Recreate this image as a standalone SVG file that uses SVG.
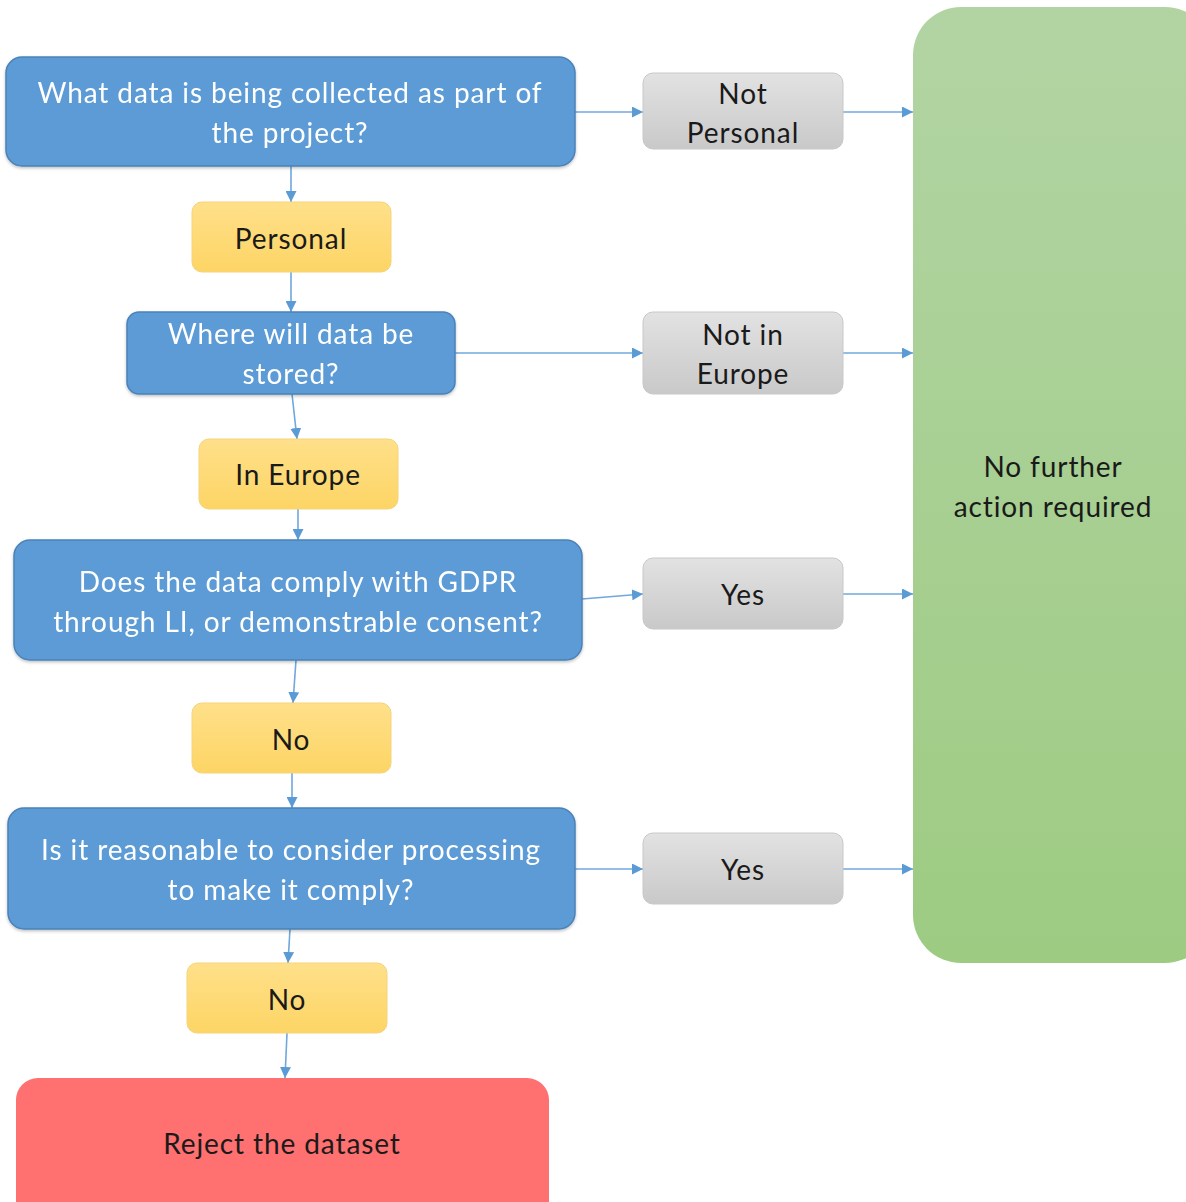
<svg xmlns="http://www.w3.org/2000/svg" width="1186" height="1202" viewBox="0 0 1186 1202">
<defs>
<linearGradient id="gy" x1="0" y1="0" x2="0" y2="1"><stop offset="0" stop-color="#ffe08a"/><stop offset="1" stop-color="#fdd565"/></linearGradient>
<linearGradient id="gg" x1="0" y1="0" x2="0" y2="1"><stop offset="0" stop-color="#e2e2e2"/><stop offset="1" stop-color="#c9c9c9"/></linearGradient>
<linearGradient id="gn" x1="0" y1="0" x2="0" y2="1"><stop offset="0" stop-color="#b2d4a3"/><stop offset="1" stop-color="#9dcb82"/></linearGradient>
<marker id="ah" viewBox="0 0 10 10" refX="10" refY="5" markerWidth="11" markerHeight="11" markerUnits="userSpaceOnUse" orient="auto"><path d="M0,0 L10,5 L0,10 z" fill="#5b9bd5"/></marker>
<filter id="sh" x="-5%" y="-5%" width="110%" height="115%"><feDropShadow dx="0" dy="1.5" stdDeviation="1.5" flood-color="#000" flood-opacity="0.25"/></filter>
</defs>
<style>
text{font-family:Lato,"Open Sans","Liberation Sans",sans-serif;font-size:28px;letter-spacing:0.9px;text-anchor:middle;dominant-baseline:central}
.blue rect{fill:#5b9bd5;stroke:#4a82b8;stroke-width:1.5}
.blue text{fill:#ffffff}
.yel rect{fill:url(#gy);stroke:#f5d37a;stroke-width:1}
.gry rect{fill:url(#gg);stroke:#c8c8c8;stroke-width:1}
.grn rect{fill:url(#gn)}
.red rect{fill:#ff7070}
.dark text{fill:#1a1a1a}
#connectors line{stroke:#6fa8dc;stroke-width:1.6;marker-end:url(#ah)}
</style>
<rect width="1186" height="1202" fill="#ffffff"/>
<g id="connectors">
<line x1="575" y1="112" x2="643" y2="112"/>
<line x1="843" y1="112" x2="913" y2="112"/>
<line x1="455" y1="353" x2="643" y2="353"/>
<line x1="843" y1="353" x2="913" y2="353"/>
<line x1="582" y1="599" x2="643" y2="594"/>
<line x1="843" y1="594" x2="913" y2="594"/>
<line x1="575" y1="869" x2="643" y2="869"/>
<line x1="843" y1="869" x2="913" y2="869"/>
<line x1="291" y1="166" x2="291" y2="202"/>
<line x1="291" y1="272" x2="291" y2="312"/>
<line x1="292" y1="394" x2="297" y2="439"/>
<line x1="298" y1="509" x2="298" y2="540"/>
<line x1="296" y1="660" x2="293" y2="703"/>
<line x1="292" y1="773" x2="292" y2="808"/>
<line x1="290" y1="929" x2="288" y2="963"/>
<line x1="287" y1="1033" x2="285" y2="1078"/>
</g>
<g id="n_green" class="grn dark"><rect x="913" y="7" width="300" height="956" rx="48"/><text x="1053" y="466">No further</text><text x="1053" y="506">action required</text></g>
<g id="n_q1" class="blue" filter="url(#sh)"><rect x="6" y="57" width="569" height="109" rx="16"/><text x="290" y="92">What data is being collected as part of</text><text x="290" y="132">the project?</text></g>
<g id="n_personal" class="yel dark"><rect x="192" y="202" width="199" height="70" rx="10"/><text x="291" y="238">Personal</text></g>
<g id="n_q2" class="blue" filter="url(#sh)"><rect x="127" y="312" width="328" height="82" rx="12"/><text x="291" y="333">Where will data be</text><text x="291" y="373">stored?</text></g>
<g id="n_ineurope" class="yel dark"><rect x="199" y="439" width="199" height="70" rx="10"/><text x="298" y="474">In Europe</text></g>
<g id="n_q3" class="blue" filter="url(#sh)"><rect x="14" y="540" width="568" height="120" rx="16"/><text x="298" y="581">Does the data comply with GDPR</text><text x="298" y="621">through LI, or demonstrable consent?</text></g>
<g id="n_no1" class="yel dark"><rect x="192" y="703" width="199" height="70" rx="10"/><text x="291" y="739">No</text></g>
<g id="n_q4" class="blue" filter="url(#sh)"><rect x="8" y="808" width="567" height="121" rx="16"/><text x="291" y="849">Is it reasonable to consider processing</text><text x="291" y="889">to make it comply?</text></g>
<g id="n_no2" class="yel dark"><rect x="187" y="963" width="200" height="70" rx="10"/><text x="287" y="999">No</text></g>
<g id="n_reject" class="red dark"><rect x="16" y="1078" width="533" height="150" rx="22"/><text x="282" y="1143">Reject the dataset</text></g>
<g id="n_notpersonal" class="gry dark"><rect x="643" y="73" width="200" height="76" rx="10"/><text x="743" y="93">Not</text><text x="743" y="132">Personal</text></g>
<g id="n_noteurope" class="gry dark"><rect x="643" y="312" width="200" height="82" rx="10"/><text x="743" y="334">Not in</text><text x="743" y="373">Europe</text></g>
<g id="n_yes1" class="gry dark"><rect x="643" y="558" width="200" height="71" rx="10"/><text x="743" y="594">Yes</text></g>
<g id="n_yes2" class="gry dark"><rect x="643" y="833" width="200" height="71" rx="10"/><text x="743" y="869">Yes</text></g>
</svg>
